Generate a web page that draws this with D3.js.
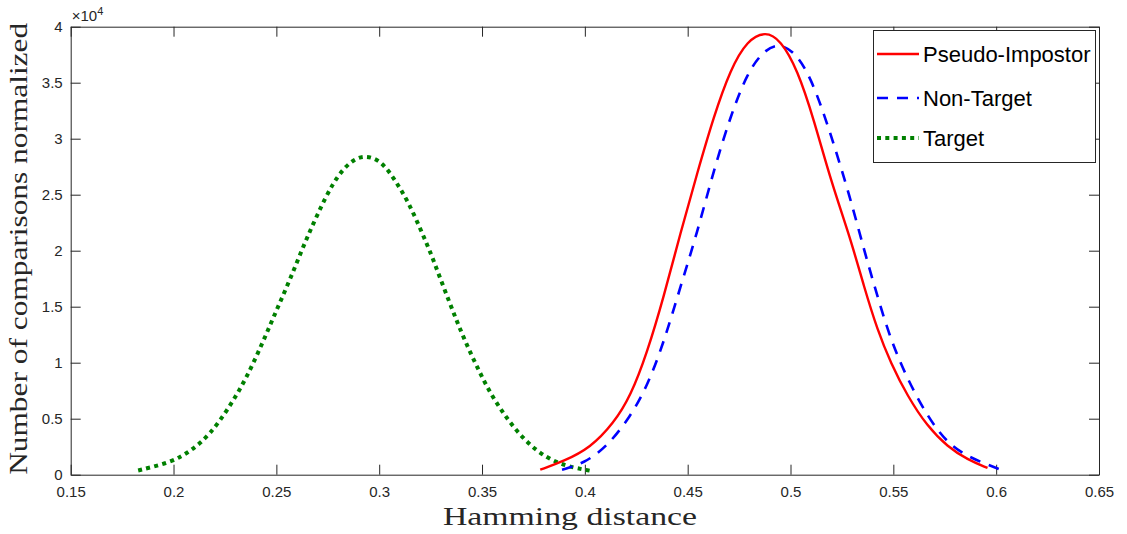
<!DOCTYPE html>
<html>
<head>
<meta charset="utf-8">
<script src="https://cdn.jsdelivr.net/npm/d3@7"></script>
<style>
  body { margin: 0; background: #fff; }
  svg { display: block; }
  .tick text { font-family: "Liberation Sans", Arial, sans-serif; font-size: 15px; fill: #262626; }
</style>
</head>
<body>
<div id="chart"></div>
<script>
// Hamming distance (x) and count in units of 1e4 (y)
const impostorX = [0.3783, 0.3897, 0.4027, 0.4140, 0.4222, 0.4303, 0.4384, 0.4465, 0.4546, 0.4627, 0.4708, 0.4790, 0.4879, 0.4952, 0.5033, 0.5114, 0.5195, 0.5293, 0.5357, 0.5423, 0.5487, 0.5569, 0.5666, 0.5763, 0.5861, 0.5958];
const impostorY = [0.045, 0.12, 0.24, 0.46, 0.70, 1.09, 1.59, 2.16, 2.69, 3.20, 3.62, 3.88, 3.96, 3.88, 3.62, 3.17, 2.63, 2.10, 1.68, 1.29, 1.00, 0.70, 0.43, 0.25, 0.134, 0.06];

const nonTargetX = [0.3889, 0.3994, 0.4108, 0.4222, 0.4303, 0.4384, 0.4465, 0.4546, 0.4627, 0.4708, 0.4790, 0.4871, 0.4944, 0.5017, 0.5098, 0.5195, 0.5293, 0.5357, 0.5423, 0.5487, 0.5569, 0.5666, 0.5763, 0.5861, 0.5958, 0.6020];
const nonTargetY = [0.045, 0.10, 0.25, 0.52, 0.79, 1.18, 1.68, 2.16, 2.72, 3.20, 3.59, 3.79, 3.85, 3.78, 3.56, 3.05, 2.455, 2.01, 1.59, 1.205, 0.85, 0.52, 0.28, 0.163, 0.09, 0.045];

const targetX = [0.1828, 0.1990, 0.2088, 0.2177, 0.2274, 0.2355, 0.2436, 0.2501, 0.2566, 0.2631, 0.2696, 0.2777, 0.2858, 0.2931, 0.3012, 0.3077, 0.3141, 0.3206, 0.3255, 0.3295, 0.3344, 0.3384, 0.3433, 0.3482, 0.3539, 0.3603, 0.3676, 0.3765, 0.3863, 0.3952, 0.4025];
const targetY = [0.038, 0.11, 0.217, 0.357, 0.61, 0.863, 1.19, 1.47, 1.74, 2.04, 2.31, 2.62, 2.80, 2.857, 2.80, 2.63, 2.44, 2.17, 1.96, 1.76, 1.53, 1.34, 1.13, 0.94, 0.73, 0.55, 0.37, 0.21, 0.104, 0.06, 0.036];

const seriesNames = ['Pseudo-Impostor', 'Non-Target', 'Target'];
const xTicks = [0.15, 0.2, 0.25, 0.3, 0.35, 0.4, 0.45, 0.5, 0.55, 0.6, 0.65];
const yTicks = [0, 0.5, 1, 1.5, 2, 2.5, 3, 3.5, 4];

const width = 1127, height = 534;
const margin = {top: 26.7, right: 28, bottom: 59.3, left: 70.7};

const svg = d3.select('#chart').append('svg')
  .attr('width', width)
  .attr('height', height);

const x = d3.scaleLinear().domain([0.15, 0.65]).range([margin.left, width - margin.right]);
const y = d3.scaleLinear().domain([0, 4]).range([height - margin.bottom, margin.top]);

const axisColor = '#262626';
const tickLen = 10;

// axes (MATLAB style: ticks inward, box on)
const gx = svg.append('g')
  .attr('transform', `translate(0,${y(0)})`)
  .call(d3.axisBottom(x).tickValues(xTicks).tickSizeInner(-tickLen).tickSizeOuter(0).tickPadding(15)
    .tickFormat(d => String(d)));
const gxTop = svg.append('g')
  .attr('transform', `translate(0,${y(4)})`)
  .call(d3.axisTop(x).tickValues(xTicks).tickSizeInner(-tickLen).tickSizeOuter(0).tickFormat(''));
const gy = svg.append('g')
  .attr('transform', `translate(${x(0.15)},0)`)
  .call(d3.axisLeft(y).tickValues(yTicks).tickSizeInner(-tickLen).tickSizeOuter(0).tickPadding(8)
    .tickFormat(d => String(d)));
const gyRight = svg.append('g')
  .attr('transform', `translate(${x(0.65)},0)`)
  .call(d3.axisRight(y).tickValues(yTicks).tickSizeInner(-tickLen).tickSizeOuter(0).tickFormat(''));

[gx, gxTop, gy, gyRight].forEach(g => {
  g.selectAll('.domain').attr('stroke', axisColor).attr('stroke-width', 1);
  g.selectAll('.tick line').attr('stroke', axisColor).attr('stroke-width', 1);
});
gx.selectAll('.tick text').attr('dy', 0).attr('y', 22);

// exponent label
const expo = svg.append('text')
  .attr('x', x(0.15) + 1)
  .attr('y', margin.top - 6)
  .style('font-family', '"Liberation Sans", Arial, sans-serif')
  .style('font-size', '15px')
  .attr('fill', axisColor);
expo.append('tspan').text('\u00d710');
expo.append('tspan').attr('dy', -6).style('font-size', '11px').text('4');

// axis titles
svg.append('text')
  .attr('x', 570)
  .attr('y', 525)
  .attr('text-anchor', 'middle')
  .attr('textLength', 254)
  .attr('lengthAdjust', 'spacingAndGlyphs')
  .style('font-family', '"Liberation Serif", "DejaVu Serif", serif')
  .style('font-size', '25px')
  .attr('fill', '#262626')
  .text('Hamming distance');

svg.append('text')
  .attr('transform', `translate(27,${(y(0) + 15) / 2 + 4}) rotate(-90)`)
  .attr('text-anchor', 'middle')
  .attr('textLength', 452)
  .attr('lengthAdjust', 'spacingAndGlyphs')
  .style('font-family', '"Liberation Serif", "DejaVu Serif", serif')
  .style('font-size', '25px')
  .attr('fill', '#262626')
  .text('Number of comparisons normalized');

// curves
const styles = [
  {color: '#ff0000', width: 2.4, dash: null},
  {color: '#0000ff', width: 2.6, dash: '11,9'},
  {color: '#008000', width: 4, dash: '4,4.3'}
];
const series = [
  d3.zip(impostorX, impostorY),
  d3.zip(nonTargetX, nonTargetY),
  d3.zip(targetX, targetY)
];

// basis curve smooths out the small reading errors in the points
const line = d3.line()
  .x(d => x(d[0]))
  .y(d => y(d[1]))
  .curve(d3.curveBasis);

const plot = svg.append('g');
[2, 1, 0].forEach(i => {
  plot.append('path')
    .datum(series[i])
    .attr('fill', 'none')
    .attr('stroke', styles[i].color)
    .attr('stroke-width', styles[i].width)
    .attr('stroke-dasharray', styles[i].dash)
    .attr('d', line);
});

// legend
const legend = svg.append('g');
legend.append('rect')
  .attr('x', 873.5).attr('y', 30.5)
  .attr('width', 222).attr('height', 132)
  .attr('fill', '#fff')
  .attr('stroke', axisColor)
  .attr('stroke-width', 1);

const legendY = [54, 98, 138];
seriesNames.forEach((name, i) => {
  legend.append('line')
    .attr('x1', 877).attr('x2', 919)
    .attr('y1', legendY[i]).attr('y2', legendY[i])
    .attr('stroke', styles[i].color)
    .attr('stroke-width', styles[i].width)
    .attr('stroke-dasharray', styles[i].dash);
  legend.append('text')
    .attr('x', 923)
    .attr('y', legendY[i] + 8)
    .style('font-family', '"Liberation Sans", Arial, sans-serif')
    .style('font-size', '22px')
    .attr('fill', '#000')
    .text(name);
});
</script>
</body>
</html>
